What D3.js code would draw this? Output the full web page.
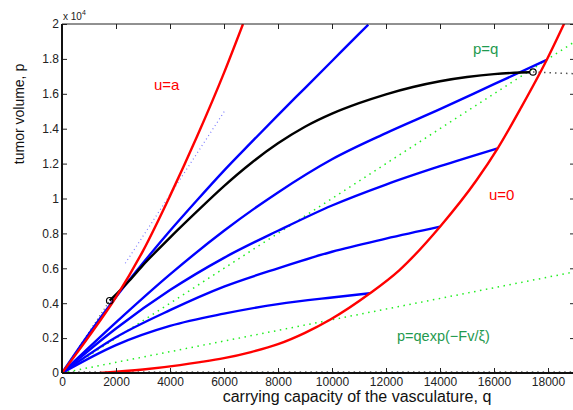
<!DOCTYPE html>
<html>
<head>
<meta charset="utf-8">
<script src="https://cdn.jsdelivr.net/npm/d3@7"></script>
<style>
  body { margin: 0; background: #fff; }
  svg { font-family: "Liberation Sans", Arial, Helvetica, sans-serif; }
  .tick text { font-size: 12px; fill: #222; }
</style>
</head>
<body>
<svg id="chart" width="573" height="410"></svg>
<script>
// values: q = carrying capacity, p = tumor volume

var uaQ = [0, 1000, 2000, 3000, 4000, 5000, 6000, 6704];
var uaP = [0, 2100, 4350, 7000, 10150, 13550, 17200, 20000];

var u0Q = [1400, 3000, 4370, 5111, 6000, 7000, 8000, 9000, 9926, 11407, 12500, 14000, 15358, 16137, 17000, 17951, 18604];
var u0P = [0, 200, 450, 620, 850, 1200, 1650, 2300, 3050, 4567, 5900, 8386, 11060, 12877, 15200, 17937, 20040];

var blackQ = [1766, 2500, 3000, 3500, 4000, 5000, 6000, 7000, 8000, 9000, 10000, 11000, 12000, 13000, 14000, 15000, 16000, 17000, 17333];
var blackP = [4143, 5300, 6180, 6980, 7760, 9260, 10710, 12020, 13160, 14110, 14860, 15460, 15970, 16390, 16720, 16960, 17130, 17220, 17235];

// blue trajectories
var b1Q = [0, 1000, 2000, 3000, 4000, 5000, 6000, 7000, 8000, 9000, 10000, 11000, 11344];
var b1P = [0, 2250, 4350, 6300, 8150, 9900, 11600, 13200, 14780, 16330, 17880, 19430, 19960];
var b2Q = [0, 2000, 4000, 6000, 8000, 10000, 12000, 14000, 16000, 17951];
var b2P = [0, 2900, 5650, 8150, 10350, 12250, 13750, 15120, 16550, 17937];
var b3Q = [0, 2000, 4000, 6000, 8000, 10000, 12000, 14000, 16137];
var b3P = [0, 2550, 4750, 6600, 8150, 9600, 10800, 11850, 12877];
var b4Q = [0, 2000, 4000, 6000, 8000, 10000, 12000, 14000];
var b4P = [0, 2050, 3600, 4950, 6000, 6950, 7700, 8386];
var b5Q = [0, 2000, 4000, 6000, 8000, 10000, 11407];
var b5P = [0, 1600, 2700, 3400, 3950, 4330, 4567];

// dotted reference lines
var pqQ = [0, 19000];
var pqP = [0, 19000];
var pexpQ = [0, 19000];
var pexpP = [0, 5800];
var tanQ = [2344, 6048];
var tanP = [6287, 15072];
var chordQ = [0, 1766];
var chordP = [0, 4143];
var flatQ = [17444, 19000];
var flatP = [17249, 17150];
var zeroQ = [0, 19000];
var zeroP = [0, 0];

// switching points
var markQ = [1766, 17444];
var markP = [4143, 17249];

var xTicks = [0, 2000, 4000, 6000, 8000, 10000, 12000, 14000, 16000, 18000];
var xTickLabels = ["0", "2000", "4000", "6000", "8000", "10000", "12000", "14000", "16000", "18000"];
var yTicks = [0, 2000, 4000, 6000, 8000, 10000, 12000, 14000, 16000, 18000, 20000];
var yTickLabels = ["0", "0.2", "0.4", "0.6", "0.8", "1", "1.2", "1.4", "1.6", "1.8", "2"];

var svg = d3.select("#chart");
var mLeft = 62, mRight = 575, mTop = 24, mBottom = 373;

var x = d3.scaleLinear().domain([0, 19000]).range([mLeft, mRight]);
var y = d3.scaleLinear().domain([0, 20000]).range([mBottom, mTop]);

svg.append("clipPath").attr("id", "plot")
  .append("rect").attr("x", mLeft).attr("y", mTop)
  .attr("width", mRight - mLeft).attr("height", mBottom - mTop);

var g = svg.append("g").attr("clip-path", "url(#plot)");

function pts(qs, ps) {
  return qs.map(function(q, i) { return [q, ps[i]]; });
}

var line = d3.line()
  .x(function(d) { return x(d[0]); })
  .y(function(d) { return y(d[1]); })
  .curve(d3.curveMonotoneX);

function draw(qs, ps, color, width, dash) {
  var p = g.append("path")
    .datum(pts(qs, ps))
    .attr("d", line)
    .attr("fill", "none")
    .attr("stroke", color)
    .attr("stroke-width", width);
  if (dash) p.attr("stroke-dasharray", dash);
  return p;
}

// dotted lines first
draw(zeroQ, zeroP, "#111", 3, "1.5,3.9");
draw(pexpQ, pexpP, "#22ee22", 1.5, "1.5,4.5");
draw(pqQ, pqP, "#22ee22", 1.5, "1.5,4.5");
draw(tanQ, tanP, "#7777ff", 1.2, "1,3");
draw(chordQ, chordP, "#555", 1.2, "1,3");
draw(flatQ, flatP, "#555", 1.5, "1.5,4");

// blue trajectories
[[b1Q, b1P], [b2Q, b2P], [b3Q, b3P], [b4Q, b4P], [b5Q, b5P]].forEach(function(b) {
  draw(b[0], b[1], "#0000ff", 2.4);
});

draw(blackQ, blackP, "#000", 2.4);
draw(uaQ, uaP, "#ff0000", 2.4);
draw(u0Q, u0P, "#ff0000", 2.4);

g.selectAll("circle.mark")
  .data(pts(markQ, markP))
  .enter().append("circle")
  .attr("class", "mark")
  .attr("cx", function(d) { return x(d[0]); })
  .attr("cy", function(d) { return y(d[1]); })
  .attr("r", 3.2)
  .attr("fill", "none")
  .attr("stroke", "#000")
  .attr("stroke-width", 1.2);

// axes, matlab style box with inward ticks
var xa = svg.append("g").attr("transform", "translate(0," + mBottom + ")")
  .call(d3.axisBottom(x).tickValues(xTicks).tickSize(-5).tickPadding(4)
    .tickFormat(function(d, i) { return xTickLabels[i]; }));
var xt = svg.append("g").attr("transform", "translate(0," + mTop + ")")
  .call(d3.axisTop(x).tickValues(xTicks).tickSize(-5).tickFormat(""));
var ya = svg.append("g").attr("transform", "translate(" + mLeft + ",0)")
  .call(d3.axisLeft(y).tickValues(yTicks).tickSize(-5).tickPadding(3)
    .tickFormat(function(d, i) { return yTickLabels[i]; }));
var yr = svg.append("g").attr("transform", "translate(" + mRight + ",0)")
  .call(d3.axisRight(y).tickValues(yTicks).tickSize(-5).tickFormat(""));

[xa, xt, ya, yr].forEach(function(a) {
  a.select(".domain").remove();
  a.selectAll(".tick line").attr("stroke", "#222");
});

svg.append("line").attr("x1", mLeft).attr("x2", mRight).attr("y1", mTop).attr("y2", mTop)
  .attr("stroke", "#222").attr("stroke-width", 1);
svg.append("line").attr("x1", mRight).attr("x2", mRight).attr("y1", mTop).attr("y2", mBottom)
  .attr("stroke", "#222").attr("stroke-width", 1);
svg.append("line").attr("x1", mLeft).attr("x2", mRight).attr("y1", mBottom).attr("y2", mBottom)
  .attr("stroke", "#111").attr("stroke-width", 2);
svg.append("line").attr("x1", mLeft).attr("x2", mLeft).attr("y1", mTop).attr("y2", mBottom)
  .attr("stroke", "#111").attr("stroke-width", 2);

// exponent
var ex = svg.append("text").attr("x", 63).attr("y", 20).attr("font-size", 10).attr("fill", "#222");
ex.append("tspan").text("x 10");
ex.append("tspan").attr("dy", -5).attr("font-size", 7).text("4");

// axis titles
svg.append("text").attr("x", 357).attr("y", 402).attr("text-anchor", "middle")
  .attr("font-size", 16).attr("fill", "#111")
  .text("carrying capacity of the vasculature, q");
svg.append("text").attr("transform", "translate(24,114) rotate(-90)")
  .attr("text-anchor", "middle").attr("font-size", 14).attr("fill", "#111")
  .text("tumor volume, p");

// curve labels
var green = "#1f9a4f";
svg.append("text").attr("x", 154).attr("y", 90).attr("font-size", 15).attr("fill", "#ff0000").text("u=a");
svg.append("text").attr("x", 489).attr("y", 200).attr("font-size", 15).attr("fill", "#ff0000").text("u=0");
svg.append("text").attr("x", 473).attr("y", 54).attr("font-size", 15).attr("fill", green).text("p=q");
svg.append("text").attr("x", 397).attr("y", 341).attr("font-size", 14.5).attr("fill", green).text("p=qexp(\u2212Fv/\u03be)");
</script>
</body>
</html>
